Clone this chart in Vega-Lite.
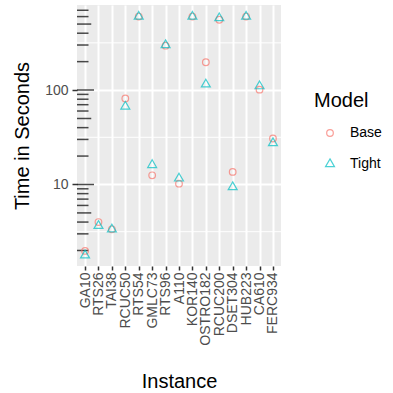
{
  "$schema": "https://vega.github.io/schema/vega-lite/v6.json",
  "width": 204,
  "height": 261,
  "autosize": {"type": "none"},
  "padding": {"left": 77, "top": 5, "right": 112, "bottom": 127},
  "background": "white",
  "config": {
    "view": {"fill": "#EBEBEB", "stroke": null},
    "font": "Liberation Sans",
    "axis": {
      "domain": false,
      "gridColor": "white",
      "gridWidth": 2,
      "tickColor": "#333333",
      "tickWidth": 1.5,
      "tickSize": 5,
      "labelColor": "#4D4D4D",
      "labelFontSize": 14,
      "labelFont": "Liberation Sans",
      "titleFont": "Liberation Sans",
      "titleFontSize": 20,
      "titleFontWeight": "normal",
      "titleColor": "black",
      "labelPadding": 4
    },
    "legend": {
      "titleFont": "Liberation Sans",
      "titleFontSize": 20,
      "titleFontWeight": "normal",
      "titleColor": "black",
      "labelFont": "Liberation Sans",
      "labelFontSize": 14,
      "labelColor": "black"
    }
  },
  "datasets": {
    "times": [
      {"Instance": "GA10", "Model": "Base", "Time": 1.98},
      {"Instance": "GA10", "Model": "Tight", "Time": 1.78},
      {"Instance": "RTS26", "Model": "Base", "Time": 4.0},
      {"Instance": "RTS26", "Model": "Tight", "Time": 3.65},
      {"Instance": "TAI38", "Model": "Base", "Time": 3.35},
      {"Instance": "TAI38", "Model": "Tight", "Time": 3.35},
      {"Instance": "RCUC50", "Model": "Base", "Time": 81.5},
      {"Instance": "RCUC50", "Model": "Tight", "Time": 67},
      {"Instance": "RTS54", "Model": "Base", "Time": 600},
      {"Instance": "RTS54", "Model": "Tight", "Time": 600},
      {"Instance": "GMLC73", "Model": "Base", "Time": 12.5},
      {"Instance": "GMLC73", "Model": "Tight", "Time": 16.1},
      {"Instance": "RTS96", "Model": "Base", "Time": 295},
      {"Instance": "RTS96", "Model": "Tight", "Time": 300},
      {"Instance": "A110", "Model": "Base", "Time": 10.2},
      {"Instance": "A110", "Model": "Tight", "Time": 11.6},
      {"Instance": "KOR140", "Model": "Base", "Time": 600},
      {"Instance": "KOR140", "Model": "Tight", "Time": 600},
      {"Instance": "OSTRO182", "Model": "Base", "Time": 197},
      {"Instance": "OSTRO182", "Model": "Tight", "Time": 115},
      {"Instance": "RCUC200", "Model": "Base", "Time": 555},
      {"Instance": "RCUC200", "Model": "Tight", "Time": 578},
      {"Instance": "DSET304", "Model": "Base", "Time": 13.6},
      {"Instance": "DSET304", "Model": "Tight", "Time": 9.4},
      {"Instance": "HUB223", "Model": "Base", "Time": 600},
      {"Instance": "HUB223", "Model": "Tight", "Time": 600},
      {"Instance": "CA610", "Model": "Base", "Time": 101},
      {"Instance": "CA610", "Model": "Tight", "Time": 110},
      {"Instance": "FERC934", "Model": "Base", "Time": 30.7},
      {"Instance": "FERC934", "Model": "Tight", "Time": 27.5}
    ],
    "minorgrid": [{"v": 3.162}, {"v": 31.62}, {"v": 316.2}],
    "logticks": [
      {"v": 2, "kind": "short"}, {"v": 3, "kind": "short"}, {"v": 4, "kind": "short"},
      {"v": 5, "kind": "mid"}, {"v": 6, "kind": "short"}, {"v": 7, "kind": "short"},
      {"v": 8, "kind": "short"}, {"v": 9, "kind": "short"}, {"v": 10, "kind": "long"},
      {"v": 20, "kind": "short"}, {"v": 30, "kind": "short"}, {"v": 40, "kind": "short"},
      {"v": 50, "kind": "mid"}, {"v": 60, "kind": "short"}, {"v": 70, "kind": "short"},
      {"v": 80, "kind": "short"}, {"v": 90, "kind": "short"}, {"v": 100, "kind": "long"},
      {"v": 200, "kind": "short"}, {"v": 300, "kind": "short"}, {"v": 400, "kind": "short"},
      {"v": 500, "kind": "mid"}, {"v": 600, "kind": "short"}, {"v": 700, "kind": "short"}
    ]
  },
  "layer": [
    {
      "data": {"name": "minorgrid"},
      "mark": {"type": "rule", "color": "white", "strokeWidth": 1},
      "encoding": {
        "y": {
          "field": "v", "type": "quantitative",
          "scale": {"type": "log", "domain": [1.37, 796], "nice": false, "zero": false},
          "axis": {"values": [10, 100], "grid": true, "title": "Time in Seconds", "titlePadding": 12}
        }
      }
    },
    {
      "data": {"name": "logticks"},
      "mark": {"type": "tick", "orient": "horizontal", "color": "black", "thickness": 1.5, "clip": true},
      "encoding": {
        "x": {"datum": 0, "type": "quantitative", "scale": {"domain": [0, 1]}, "axis": null},
        "y": {"field": "v", "type": "quantitative"},
        "size": {"field": "kind", "type": "nominal", "scale": {"domain": ["long", "mid", "short"], "range": [34, 23, 12]}, "legend": null}
      }
    },
    {
      "data": {"name": "times"},
      "mark": {"type": "point", "filled": false, "strokeWidth": 1.2, "size": 44},
      "encoding": {
        "x": {
          "field": "Instance", "type": "nominal",
          "sort": ["GA10", "RTS26", "TAI38", "RCUC50", "RTS54", "GMLC73", "RTS96", "A110", "KOR140", "OSTRO182", "RCUC200", "DSET304", "HUB223", "CA610", "FERC934"],
          "scale": {"type": "point", "padding": 0.6},
          "axis": {"grid": true, "labelAngle": 270, "labelAlign": "right", "labelBaseline": "middle", "labelPadding": 2, "tickSize": 4, "title": "Instance", "titlePadding": 26}
        },
        "y": {"field": "Time", "type": "quantitative"},
        "color": {
          "field": "Model", "type": "nominal",
          "scale": {"domain": ["Base", "Tight"], "range": ["#F8766D", "#00BFC4"]},
          "legend": {"orient": "none", "legendX": 237, "legendY": 86, "title": "Model", "symbolSize": 44, "symbolStrokeWidth": 1.2, "rowPadding": 16, "titlePadding": 15, "symbolOffset": 9, "labelOffset": 13}
        },
        "shape": {
          "field": "Model", "type": "nominal",
          "scale": {"domain": ["Base", "Tight"], "range": ["circle", "M0,-1.555L1.347,0.778L-1.347,0.778Z"]}
        }
      }
    }
  ],
  "resolve": {"scale": {"x": "independent"}}
}
